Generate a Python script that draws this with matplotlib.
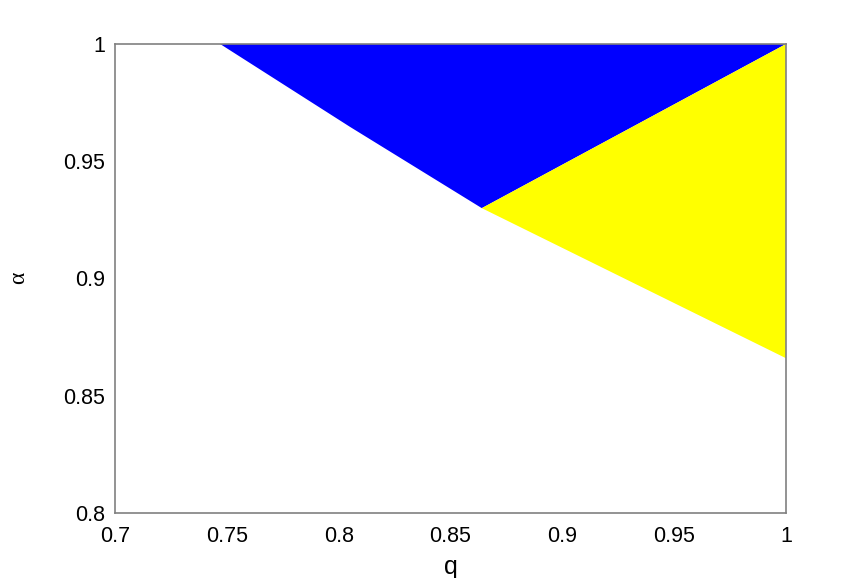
import matplotlib
matplotlib.use("Agg")
import matplotlib.pyplot as plt

plt.rcParams['font.family'] = ['Liberation Sans', 'DejaVu Sans']

# Boundary points
blue_q = [0.747, 0.805, 0.864, 1.0, 1.0]
blue_a = [1.0, 0.9647, 0.930, 1.0, 1.0]
yellow_q = [0.864, 0.929, 1.0, 1.0]
yellow_a = [0.930, 0.8994, 0.866, 1.0]

xticks = [0.7, 0.75, 0.8, 0.85, 0.9, 0.95, 1.0]
xticklabels = ['0.7', '0.75', '0.8', '0.85', '0.9', '0.95', '1']
yticks = [0.8, 0.85, 0.9, 0.95, 1.0]
yticklabels = ['0.8', '0.85', '0.9', '0.95', '1']

fig = plt.figure(figsize=(8.68, 5.78), dpi=100)
ax = fig.add_axes([115/868, 1-513/578, 671/868, 469/578])
ax.fill(blue_q, blue_a, color='#0000ff', lw=0)
ax.fill(yellow_q, yellow_a, color='#ffff00', lw=0)
ax.set_xlim(0.7, 1.0)
ax.set_ylim(0.8, 1.0)
ax.set_xticks(xticks)
ax.set_xticklabels(xticklabels)
ax.set_yticks(yticks)
ax.set_yticklabels(yticklabels)
ax.tick_params(length=0, labelsize=15.5, pad=7)
ax.tick_params(axis='x', pad=9)
for s in ax.spines.values():
    s.set_color('#808080')
    s.set_linewidth(1.2)
ax.set_xlabel('q', fontsize=18, labelpad=6)
fig.text(19/868, 1-278/578, 'α', family=['Liberation Serif', 'DejaVu Serif'],
         fontsize=17, rotation=90, ha='center', va='center')
fig.savefig('out.png', dpi=100)
